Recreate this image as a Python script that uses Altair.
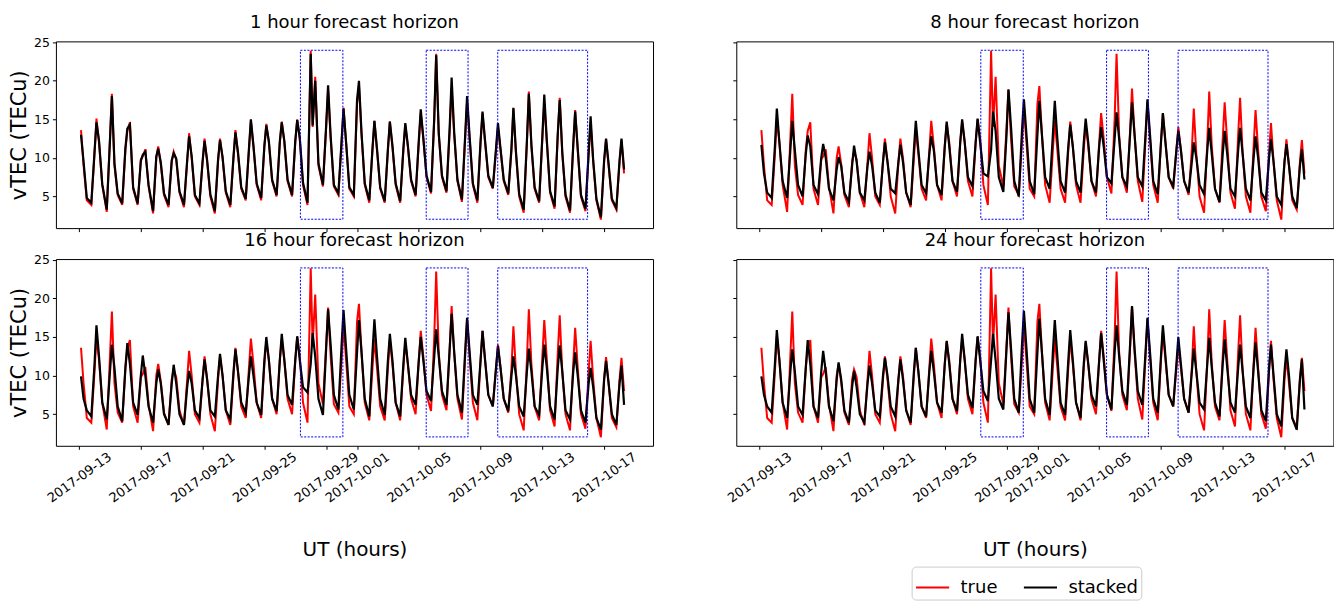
import altair as alt
import pandas as pd
from datetime import datetime, timedelta

# ---------------- data ----------------
first_day = (2017, 9, 13)
hours_of_day = [0, 3, 7, 12, 19]   # UT hours of the values in each daily row

true_vtec = [
    [None, 13.6, 9.0, 4.5, 3.9], [10.5, 15.1, 12.0, 6.5, 3.0], [12.5, 18.3, 9.0, 5.2, 3.9],
    [11.0, 13.5, 14.6, 6.0, 3.9], [9.8, 10.2, 11.1, 6.3, 2.8], [10.0, 11.5, 9.2, 5.2, 3.6],
    [9.5, 10.8, 9.8, 5.5, 3.6], [9.5, 13.2, 10.0, 5.0, 3.9], [9.5, 12.5, 9.5, 5.0, 2.8],
    [9.5, 12.5, 10.0, 5.5, 3.6], [10.0, 13.6, 10.5, 6.0, 4.5], [11.0, 14.8, 11.5, 6.5, 4.5],
    [11.5, 14.4, 12.0, 7.0, 5.0], [12.0, 14.7, 12.0, 7.0, 5.0], [12.0, 15.0, 12.5, 6.5, 3.9],
    [23.9, 14.0, 20.5, 9.0, 6.3], [14.0, 18.8, 12.5, 6.3, 5.2], [12.0, 16.5, 12.0, 6.0, 5.0],
    [17.0, 19.3, 13.0, 6.5, 4.2], [11.0, 14.8, 11.0, 6.0, 4.2], [11.0, 14.7, 11.5, 6.5, 4.2],
    [11.0, 14.3, 11.5, 7.0, 5.0], [12.0, 15.8, 12.5, 7.5, 5.4], [15.0, 23.5, 13.0, 7.5, 5.5],
    [13.5, 19.0, 13.0, 7.0, 4.3], [12.5, 17.3, 12.5, 6.5, 4.2], [12.0, 15.8, 12.0, 7.5, 6.0],
    [11.0, 14.0, 11.0, 7.0, 5.2], [11.0, 16.4, 10.5, 5.0, 2.9], [12.0, 18.6, 11.5, 6.0, 4.2],
    [12.5, 17.2, 12.0, 5.5, 3.4], [13.0, 17.8, 10.5, 5.0, 2.9], [11.5, 16.2, 11.0, 5.0, 3.1],
    [10.5, 14.5, 9.5, 4.5, 2.0], [9.5, 12.4, 9.0, 4.5, 3.3], [9.5, 12.3, 8.0],
]

stacked_1h = [
    [None, 13.0, 9.5, 4.8, 4.2], [10.8, 14.6, 12.2, 6.6, 3.3], [12.2, 18.0, 9.3, 5.4, 4.1],
    [11.3, 13.8, 14.3, 6.2, 4.1], [9.6, 10.4, 10.8, 6.5, 3.1], [10.2, 11.2, 9.4, 5.4, 3.9],
    [9.7, 10.6, 9.9, 5.7, 3.9], [9.7, 12.8, 10.2, 5.2, 4.1], [9.6, 12.2, 9.7, 5.3, 3.1],
    [9.8, 12.3, 10.1, 5.7, 3.9], [10.2, 13.3, 10.7, 6.2, 4.7], [11.2, 15.0, 11.6, 6.7, 4.8],
    [11.6, 14.2, 12.1, 7.2, 5.2], [12.1, 14.6, 12.2, 7.2, 5.2], [12.2, 14.9, 12.6, 6.8, 4.2],
    [23.5, 14.2, 20.0, 9.3, 6.5], [14.2, 19.4, 12.8, 6.5, 5.4], [12.2, 16.4, 12.0, 6.2, 5.2],
    [17.5, 20.0, 13.2, 6.7, 4.5], [11.2, 14.8, 11.2, 6.2, 4.4], [11.2, 14.7, 11.6, 6.7, 4.4],
    [11.2, 14.5, 11.6, 7.2, 5.2], [12.3, 16.3, 12.6, 7.7, 5.6], [15.2, 23.3, 13.2, 7.7, 5.7],
    [14.0, 20.4, 13.3, 7.2, 4.6], [12.8, 18.0, 12.7, 6.7, 4.5], [12.2, 16.0, 12.2, 7.7, 6.1],
    [11.2, 14.5, 11.2, 7.2, 5.4], [11.3, 16.5, 10.8, 5.3, 3.3], [12.2, 18.3, 11.7, 6.2, 4.4],
    [12.8, 18.2, 12.2, 5.7, 3.7], [13.2, 17.5, 10.7, 5.2, 3.2], [11.7, 16.0, 11.2, 5.2, 3.4],
    [10.8, 15.4, 9.7, 4.7, 2.3], [9.7, 12.5, 9.2, 4.7, 3.5], [9.7, 12.5, 8.5],
]

stacked_8h = [
    [None, 11.7, 8.0, 5.5, 4.8], [11.5, 16.4, 12.0, 7.0, 4.8], [11.0, 14.8, 11.0, 6.5, 5.0],
    [10.5, 12.9, 11.5, 6.5, 5.3], [10.0, 11.8, 10.0, 6.0, 4.5], [8.5, 10.1, 9.0, 5.5, 4.3],
    [9.0, 11.6, 9.5, 5.5, 4.5], [9.0, 10.8, 9.0, 5.5, 4.2], [9.5, 12.0, 9.5, 6.0, 5.4],
    [9.5, 11.7, 9.5, 5.5, 3.9], [11.0, 14.8, 11.0, 6.5, 5.4], [10.5, 12.8, 11.0, 6.5, 5.2],
    [11.5, 14.7, 11.5, 7.0, 5.6], [12.0, 15.0, 12.0, 7.5, 6.3], [12.0, 15.1, 12.0, 8.0, 7.6],
    [11.0, 16.0, 13.5, 7.5, 5.6], [13.0, 18.9, 14.0, 7.0, 5.0], [13.5, 17.6, 13.0, 7.0, 5.3],
    [13.0, 17.4, 13.0, 7.5, 6.0], [13.0, 17.4, 12.5, 7.0, 5.5], [11.5, 14.3, 11.5, 7.0, 5.5],
    [12.0, 15.1, 12.0, 7.0, 5.5], [11.5, 14.0, 11.5, 7.5, 6.7], [12.5, 15.9, 12.5, 7.5, 6.3],
    [13.0, 17.2, 13.0, 7.5, 6.3], [13.0, 17.6, 13.0, 7.0, 5.3], [12.0, 15.8, 12.0, 7.5, 6.3],
    [11.0, 13.5, 11.0, 7.0, 5.5], [9.5, 12.0, 10.0, 6.5, 5.3], [11.0, 13.9, 10.5, 6.0, 4.3],
    [10.5, 13.5, 10.5, 6.0, 5.0], [11.0, 13.9, 10.5, 6.0, 4.5], [10.0, 12.8, 10.0, 5.5, 4.5],
    [10.0, 12.4, 9.5, 5.0, 3.9], [9.5, 11.8, 9.0, 5.0, 3.5], [9.0, 11.1, 7.2],
]

stacked_16h = [
    [None, 9.9, 7.0, 5.5, 4.7], [11.5, 16.5, 12.5, 6.5, 4.3], [10.5, 14.0, 11.0, 6.0, 4.1],
    [11.0, 14.2, 11.5, 6.5, 4.9], [10.0, 12.6, 10.0, 6.0, 3.9], [9.0, 10.8, 9.0, 5.0, 3.6],
    [9.0, 11.4, 9.0, 5.0, 3.6], [8.5, 10.6, 9.0, 5.5, 4.5], [9.5, 12.1, 9.5, 5.5, 4.7],
    [10.0, 12.8, 10.0, 5.5, 4.3], [10.5, 13.4, 10.5, 6.5, 5.2], [10.0, 12.5, 10.0, 6.5, 4.9],
    [12.0, 15.0, 12.0, 7.0, 5.4], [12.0, 15.4, 12.0, 7.5, 6.2], [12.0, 15.1, 12.0, 8.5, 7.8],
    [11.5, 15.5, 12.5, 7.0, 4.9], [13.5, 18.6, 14.0, 7.5, 5.6], [14.0, 18.5, 13.5, 7.5, 5.6],
    [13.0, 17.2, 13.0, 7.0, 4.7], [13.0, 17.3, 12.5, 7.0, 4.9], [12.0, 15.4, 12.0, 6.5, 4.7],
    [11.5, 14.9, 11.5, 7.5, 6.2], [12.0, 15.0, 12.0, 8.0, 6.7], [12.5, 16.0, 12.5, 8.0, 6.2],
    [13.5, 18.0, 13.0, 7.5, 5.2], [13.0, 17.5, 13.0, 7.5, 6.2], [12.0, 15.8, 12.0, 7.5, 6.0],
    [11.0, 13.8, 11.0, 7.0, 5.4], [10.0, 12.5, 10.0, 6.0, 4.7], [10.5, 13.5, 10.5, 6.0, 4.9],
    [11.0, 14.0, 11.0, 6.0, 4.3], [11.0, 13.9, 10.5, 5.5, 4.3], [10.5, 13.0, 10.0, 5.5, 3.9],
    [9.0, 11.0, 8.5, 4.5, 3.0], [9.5, 11.9, 9.0, 5.0, 3.6], [9.0, 11.3, 6.2],
]

stacked_24h = [
    [None, 9.9, 7.5, 6.0, 5.2], [11.5, 15.9, 12.0, 6.5, 4.5], [10.5, 13.4, 10.5, 6.0, 4.9],
    [11.0, 14.6, 11.5, 6.0, 4.5], [10.5, 13.2, 10.5, 6.0, 4.1], [9.5, 11.7, 9.5, 5.5, 3.9],
    [8.5, 10.6, 8.5, 5.0, 3.9], [9.0, 11.3, 9.0, 5.5, 4.7], [10.0, 12.3, 10.0, 6.0, 4.7],
    [9.5, 12.1, 9.5, 5.5, 3.9], [10.5, 13.6, 10.5, 6.0, 4.7], [10.5, 13.2, 10.5, 6.5, 5.2],
    [11.5, 14.5, 11.5, 7.0, 5.4], [12.0, 15.4, 12.0, 7.5, 5.8], [12.0, 15.1, 12.0, 8.0, 6.7],
    [12.0, 15.4, 12.0, 7.0, 5.6], [13.5, 18.2, 13.5, 7.0, 5.2], [14.0, 18.4, 13.5, 7.0, 5.2],
    [13.0, 17.4, 13.0, 7.0, 4.9], [13.0, 17.2, 12.5, 6.5, 4.9], [12.0, 15.9, 12.0, 6.5, 4.5],
    [11.5, 14.5, 11.5, 7.5, 6.0], [12.0, 15.5, 12.0, 7.5, 5.6], [13.0, 16.5, 12.5, 8.0, 6.2],
    [14.0, 19.0, 13.5, 8.0, 6.2], [13.0, 17.5, 13.0, 7.0, 5.2], [12.5, 16.5, 12.5, 7.5, 6.0],
    [11.5, 15.0, 11.5, 7.0, 5.2], [10.5, 13.5, 10.5, 6.5, 5.6], [11.5, 14.9, 11.0, 6.5, 4.7],
    [11.5, 14.7, 11.0, 6.5, 5.2], [11.0, 14.0, 10.5, 6.0, 4.5], [11.0, 14.3, 10.5, 5.5, 4.1],
    [11.0, 14.0, 10.0, 5.0, 3.4], [10.5, 13.4, 10.0, 4.5, 3.0], [9.5, 12.1, 5.6],
]

panel_titles = ["1 hour forecast horizon", "8 hour forecast horizon",
                "16 hour forecast horizon", "24 hour forecast horizon"]
series_names = ["true", "stacked"]
series_colors = ["#ff0000", "#000000"]

# highlighted periods (blue dotted boxes)
box_start = ["2017-09-27T08:00:00Z", "2017-10-05T11:30:00Z", "2017-10-10T02:40:00Z"]
box_end = ["2017-09-30T02:00:00Z", "2017-10-08T04:30:00Z", "2017-10-15T22:20:00Z"]
box_low = [2.05, 2.05, 2.05]
box_high = [23.95, 23.95, 23.95]

tick_dates = [(2017, 9, 13), (2017, 9, 17), (2017, 9, 21), (2017, 9, 25), (2017, 9, 29),
              (2017, 10, 1), (2017, 10, 5), (2017, 10, 9), (2017, 10, 13), (2017, 10, 17)]
x_domain = [(2017, 9, 11, 12), (2017, 10, 20, 4)]
y_ticks = [5, 10, 15, 20, 25]
y_domain = [0.9, 25.1]

FONT = "DejaVu Sans"


def to_frame(rows, label):
    base = datetime(*first_day)
    recs = []
    for d, row in enumerate(rows):
        for h, v in zip(hours_of_day, row):
            if v is None:
                continue
            t = base + timedelta(days=d, hours=h)
            recs.append({"t": t.strftime("%Y-%m-%dT%H:%M:%SZ"), "v": v, "series": label})
    return pd.DataFrame(recs)


boxes = pd.DataFrame({"t": box_start, "t2": box_end, "v": box_low, "v2": box_high})

x_scale = alt.Scale(type="utc",
                    domain=[alt.DateTime(year=a, month=b, date=c, hours=h, utc=True) for a, b, c, h in x_domain])
y_scale = alt.Scale(domain=y_domain, nice=False, zero=False)
tick_values = [alt.DateTime(year=a, month=b, date=c, utc=True) for a, b, c in tick_dates]


def panel(title, fc_rows, show_x, show_y):
    if show_x:
        xt = "UT (hours)"
        x_axis = alt.Axis(values=tick_values, format="%Y-%m-%d", grid=False, domain=False,
                          tickSize=3.5, tickColor="black", labelAngle=-36, labelAlign="center",
                          labelBaseline="middle", labelPadding=28, labelFont=FONT, labelFontSize=13,
                          labelColor="black", titleFont=FONT, titleFontSize=20,
                          titleFontWeight="normal", titleColor="black", titlePadding=35,
                          labelOverlap=False)
    else:
        xt = ""
        x_axis = alt.Axis(values=tick_values, grid=False, domain=False, tickSize=3.5,
                          tickColor="black", labels=False)
    if show_y:
        yt = "vTEC (TECu)"
        y_axis = alt.Axis(values=y_ticks, grid=False, domain=False, tickSize=3.5, tickColor="black",
                          labelFont=FONT, labelFontSize=12.5, labelColor="black", labelPadding=3,
                          titleFont=FONT, titleFontSize=21,
                          titleFontWeight="normal", titleColor="black", titlePadding=4)
        title_offset = 4
    else:
        yt = ""
        y_axis = alt.Axis(values=y_ticks, grid=False, domain=False, tickSize=3.5, tickColor="black",
                          labels=False)
        title_offset = 9

    color = alt.Color("series:N",
                      scale=alt.Scale(domain=series_names, range=series_colors),
                      legend=alt.Legend(orient="none", legendX=857, legendY=526, direction="horizontal",
                                        title="", symbolType="stroke", symbolStrokeWidth=2,
                                        symbolSize=1100, labelFont=FONT, labelFontSize=18,
                                        labelColor="black", labelOffset=10, columnPadding=22,
                                        strokeColor="#cccccc", fillColor="white", padding=3,
                                        cornerRadius=4))

    red = alt.Chart(to_frame(true_vtec, "true")).mark_line(strokeWidth=2).encode(
        x=alt.X("t:T", scale=x_scale, axis=x_axis, title=xt),
        y=alt.Y("v:Q", scale=y_scale, axis=y_axis, title=yt),
        color=color,
    )
    black = alt.Chart(to_frame(fc_rows, "stacked")).mark_line(strokeWidth=2.2).encode(
        x=alt.X("t:T", scale=x_scale, axis=x_axis, title=xt),
        y=alt.Y("v:Q", scale=y_scale, axis=y_axis, title=yt),
        color=color,
    )
    rect = alt.Chart(boxes).mark_rect(filled=False, stroke="#0000ff", strokeWidth=1,
                                      strokeDash=[2, 1.5]).encode(
        x=alt.X("t:T", scale=x_scale, axis=x_axis, title=xt),
        x2="t2:T",
        y=alt.Y("v:Q", scale=y_scale, axis=y_axis, title=yt),
        y2="v2:Q",
    )
    return alt.layer(red, black, rect).properties(
        width=598, height=187,
        title=alt.TitleParams(title, font=FONT, fontSize=18, fontWeight="normal", color="black",
                              anchor="middle", offset=title_offset, frame="group"),
    )


p1 = panel(panel_titles[0], stacked_1h, False, True)
p2 = panel(panel_titles[1], stacked_8h, False, False)
p3 = panel(panel_titles[2], stacked_16h, True, True)
p4 = panel(panel_titles[3], stacked_24h, True, False)

chart = alt.concat(p1, p2, p3, p4, columns=2, bounds="flush",
                   spacing={"row": 31, "column": 83.4}).configure_view(
    stroke="black", strokeWidth=1
).properties(
    padding={"left": 8, "top": 13, "right": 0, "bottom": 0}
)

chart.save("out.html", embed_options={"renderer": "svg", "actions": False})
